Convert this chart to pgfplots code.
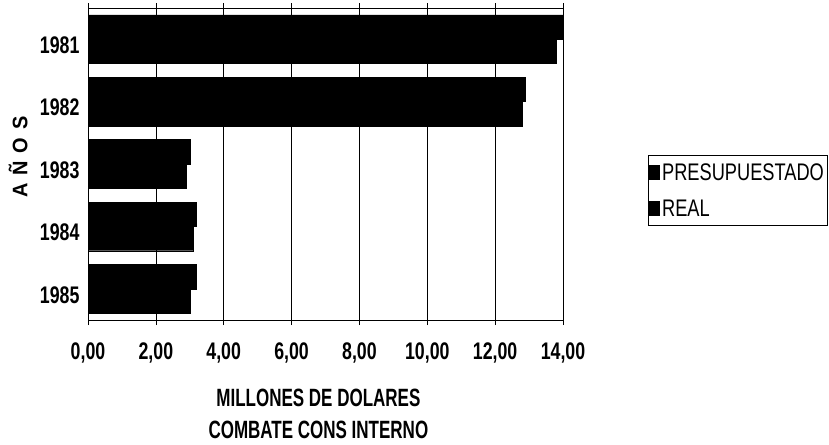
\documentclass[border=0pt]{standalone}
\usepackage{fontspec}
\usepackage{pgfplots}
\pgfplotsset{compat=1.18}
\setmainfont{Liberation Sans}
\newfontfamily\cond[FakeStretch=0.74]{Liberation Sans}
\newfontfamily\condx[FakeStretch=0.68]{Liberation Sans}
\newfontfamily\condl[FakeStretch=0.76]{Liberation Sans}
\newfontfamily\condy[FakeStretch=0.95]{Liberation Sans}
\newcommand{\tickfont}{\cond\bfseries\fontsize{24}{28}\selectfont}
\newcommand{\labfont}{\condx\bfseries\fontsize{25}{32}\selectfont}
\begin{document}
\begin{tikzpicture}
\useasboundingbox (0,0) rectangle (829pt,444pt);
\begin{axis}[
  at={(88pt,124pt)}, anchor=south west,
  scale only axis, width=475pt, height=312pt,
  xbar,
  xmin=0, xmax=14, ymin=0.5, ymax=5.5, y dir=reverse,
  ytick={1,2,3,4,5}, yticklabels={1981,1982,1983,1984,1985},
  xtick={0,2,...,14},
  xmajorgrids, grid style={black, line width=0.7pt},
  axis line style={black, line width=0.9pt},
  tick style={black, line width=0.7pt},
  major tick length=5pt,
  ytick style={draw=none},
  xtick align=outside,
  xticklabel style={font=\tickfont, yshift=-14pt,
    /pgf/number format/fixed, /pgf/number format/fixed zerofill,
    /pgf/number format/precision=2, /pgf/number format/use comma,
    /pgf/number format/assume math mode=true},
  yticklabel style={font=\tickfont, yshift=-6pt},
  scaled x ticks=false,
  xlabel={MILLONES DE DOLARES\\COMBATE CONS INTERNO},
  xlabel style={at={(axis description cs:0.485,0)}, anchor=north, yshift=-66pt, align=center, font=\labfont},
  ylabel={A\hspace{8pt}Ñ\hspace{8pt}O\hspace{8pt}S},
  ylabel style={at={(axis description cs:-0.147,0.522)}, anchor=center, font=\condy\bfseries\fontsize{21}{25}\selectfont},
  bar width=0.39,
  legend style={at={(axis description cs:1.179,0.529)}, anchor=north west,
    draw=black, line width=0.7pt, font=\condl\fontsize{24}{28}\selectfont,
    inner xsep=1pt, inner ysep=6pt, row sep=14pt, cells={anchor=west}},
  legend image code/.code={\fill[black] (0pt,-7pt) rectangle (10pt,7pt);},
]
\addplot[fill=black, draw=black, bar shift=-0.195] coordinates {(14.0,1) (12.9,2) (3.0,3) (3.2,4) (3.2,5)};
\addplot[fill=black, draw=black, bar shift=0.195] coordinates {(13.8,1) (12.8,2) (2.9,3) (3.1,4) (3.0,5)};
\legend{PRESUPUESTADO,REAL}
\end{axis}
\end{tikzpicture}
\end{document}
